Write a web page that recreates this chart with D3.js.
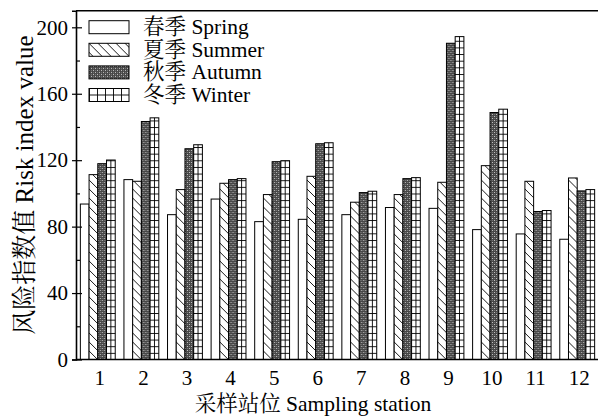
<!DOCTYPE html>
<html>
<head>
<meta charset="utf-8">
<script src="https://cdn.jsdelivr.net/npm/d3@7"></script>
<style>
    body { margin: 0; background: #fff; }
    svg { display: block; }
    text { font-family: "Liberation Serif", "Times New Roman", "Noto Serif CJK SC", "Noto Sans CJK SC", serif; fill: #000; }
    .axis path, .axis line { stroke: #000; }
    .bar { stroke: #000; stroke-width: 1; }
</style>
</head>
<body>
<div id="chart"></div>
<script>
// data
let stations = ["1", "2", "3", "4", "5", "6", "7", "8", "9", "10", "11", "12"];
let seasons = ["spring", "summer", "autumn", "winter"];
let seasonLabels = ["春季 Spring", "夏季 Summer", "秋季 Autumn", "冬季 Winter"];
let spring = [93.6, 108.3, 87.2, 96.6, 83.0, 84.4, 87.2, 91.5, 91.0, 78.2, 75.6, 72.4];
let summer = [111.3, 107.3, 102.3, 106.1, 99.3, 110.3, 94.7, 99.3, 106.7, 116.7, 107.3, 109.3];
let autumn = [117.9, 143.3, 126.9, 108.3, 119.1, 129.9, 100.5, 108.9, 190.4, 148.7, 89.1, 101.5];
let winter = [120.1, 145.5, 129.3, 108.9, 119.7, 130.5, 101.3, 109.5, 194.4, 150.7, 89.7, 102.3];
let yTicks = [0, 40, 80, 120, 160, 200];
let yMinorTicks = [20, 60, 100, 140, 180];

let series = { spring: spring, summer: summer, autumn: autumn, winter: winter };

let width = 598, height = 419;
let margin = { top: 10.7, right: -1, bottom: 59.5, left: 76 };

let svg = d3.select("#chart").append("svg")
    .attr("width", width)
    .attr("height", height);

// fill patterns
let defs = svg.append("defs");

let summerPat = defs.append("pattern")
    .attr("id", "p-summer")
    .attr("patternUnits", "userSpaceOnUse")
    .attr("width", 9).attr("height", 9);
summerPat.append("rect").attr("width", 9).attr("height", 9).attr("fill", "#fff");
summerPat.append("path")
    .attr("d", "M0,0L9,9M-3,6L3,12M6,-3L12,3")
    .attr("stroke", "#000").attr("stroke-width", 0.9);

let autumnPat = defs.append("pattern")
    .attr("id", "p-autumn")
    .attr("patternUnits", "userSpaceOnUse")
    .attr("width", 4).attr("height", 4);
autumnPat.append("rect").attr("width", 4).attr("height", 4).attr("fill", "#474747");
autumnPat.append("rect").attr("width", 1).attr("height", 1).attr("fill", "#c4c4c4");
autumnPat.append("rect").attr("x", 2).attr("y", 2).attr("width", 1).attr("height", 1).attr("fill", "#c4c4c4");
autumnPat.append("rect").attr("x", 2).attr("y", 0).attr("width", 1).attr("height", 1).attr("fill", "#777");
autumnPat.append("rect").attr("x", 0).attr("y", 2).attr("width", 1).attr("height", 1).attr("fill", "#777");

let y = d3.scaleLinear()
    .domain([0, 210])
    .range([height - margin.bottom, margin.top]);

let x = d3.scaleBand()
    .domain(stations)
    .range([margin.left, width - margin.right])
    .paddingInner(0.2)
    .paddingOuter(0.1);

let xs = d3.scaleBand()
    .domain(seasons)
    .range([0, x.bandwidth()]);

let bw = xs.bandwidth();

// winter grid inside bars: one vertical line in the middle, horizontal lines
let winterPat = defs.append("pattern")
    .attr("id", "p-winter")
    .attr("patternUnits", "userSpaceOnUse")
    .attr("width", bw).attr("height", 6.64)
    .attr("y", y(0));
winterPat.append("rect").attr("width", bw).attr("height", 6.64).attr("fill", "#fff");
winterPat.append("path")
    .attr("d", `M${bw / 2},0V6.64M0,0.5H${bw}`)
    .attr("stroke", "#000").attr("stroke-width", 0.9);

// winter grid for legend box
let winterLegPat = defs.append("pattern")
    .attr("id", "p-winter-leg")
    .attr("patternUnits", "userSpaceOnUse")
    .attr("width", 8).attr("height", 13);
winterLegPat.append("rect").attr("width", 8).attr("height", 13).attr("fill", "#fff");
winterLegPat.append("path")
    .attr("d", "M0.5,0V13M0,6.5H8")
    .attr("stroke", "#000").attr("stroke-width", 0.9);

let fills = { spring: "#fff", summer: "url(#p-summer)", autumn: "url(#p-autumn)", winter: "url(#p-winter)" };
let legFills = { spring: "#fff", summer: "url(#p-summer)", autumn: "url(#p-autumn)", winter: "url(#p-winter-leg)" };

// bars, every bar in its own group so the patterns start at the bar's left edge
let groups = svg.append("g").selectAll("g")
    .data(stations)
    .join("g")
    .attr("transform", d => `translate(${x(d)},0)`);

groups.selectAll("g")
    .data((d, i) => seasons.map(s => ({ season: s, value: series[s][i] })))
    .join("g")
    .attr("transform", d => `translate(${xs(d.season)},0)`)
    .append("rect")
    .classed("bar", true)
    .attr("x", 0)
    .attr("y", d => y(d.value))
    .attr("width", bw)
    .attr("height", d => y(0) - y(d.value))
    .attr("fill", d => fills[d.season]);

// frame: top line
svg.append("line")
    .attr("x1", margin.left).attr("x2", width)
    .attr("y1", margin.top).attr("y2", margin.top)
    .attr("stroke", "#000").attr("stroke-width", 1.6);

// x axis (no ticks)
svg.append("line")
    .attr("x1", margin.left).attr("x2", width)
    .attr("y1", y(0)).attr("y2", y(0))
    .attr("stroke", "#000").attr("stroke-width", 1.6);

svg.append("g")
    .selectAll("text")
    .data(stations)
    .join("text")
    .attr("x", d => x(d) + x.bandwidth() / 2 + 2)
    .attr("y", 385)
    .attr("text-anchor", "middle")
    .attr("font-size", 21)
    .text(d => d);

// y axis
let yAxis = d3.axisLeft(y)
    .tickValues(yTicks)
    .tickSize(4)
    .tickPadding(4);

let gy = svg.append("g")
    .classed("axis", true)
    .attr("transform", `translate(${margin.left},0)`)
    .call(yAxis);
gy.select(".domain").attr("stroke-width", 1.6);
gy.selectAll(".tick line").attr("stroke-width", 1.2);
gy.selectAll(".tick text").attr("font-size", 21).attr("font-family", "Liberation Serif, serif");

// inward part of major ticks
svg.append("g")
    .classed("axis", true)
    .attr("transform", `translate(${margin.left},0)`)
    .call(d3.axisLeft(y).tickValues(yTicks).tickSize(-6).tickFormat(""))
    .call(g => g.select(".domain").remove())
    .selectAll("line").attr("stroke-width", 1.2);

// minor ticks, inward
svg.append("g")
    .classed("axis", true)
    .attr("transform", `translate(${margin.left},0)`)
    .call(d3.axisLeft(y).tickValues(yMinorTicks).tickSize(-4).tickFormat(""))
    .call(g => g.select(".domain").remove())
    .selectAll("line").attr("stroke-width", 1.2);

// axis titles
svg.append("text")
    .attr("transform", `translate(33,${(margin.top + y(0)) / 2}) rotate(-90)`)
    .attr("text-anchor", "middle")
    .attr("font-size", 25)
    .text("风险指数值 Risk index value");

svg.append("text")
    .attr("x", 313)
    .attr("y", 411)
    .attr("text-anchor", "middle")
    .attr("font-size", 21.5)
    .text("采样站位 Sampling station");

// legend
let legend = svg.append("g")
    .selectAll("g")
    .data(seasons)
    .join("g")
    .attr("transform", (d, i) => `translate(89,${20.7 + i * 22.6})`);

legend.append("rect")
    .attr("width", 40)
    .attr("height", 13)
    .attr("fill", d => legFills[d])
    .attr("stroke", "#000")
    .attr("stroke-width", 1);

legend.append("text")
    .attr("x", 54)
    .attr("y", 13.5)
    .attr("font-size", 21.5)
    .text((d, i) => seasonLabels[i]);
</script>
</body>
</html>
